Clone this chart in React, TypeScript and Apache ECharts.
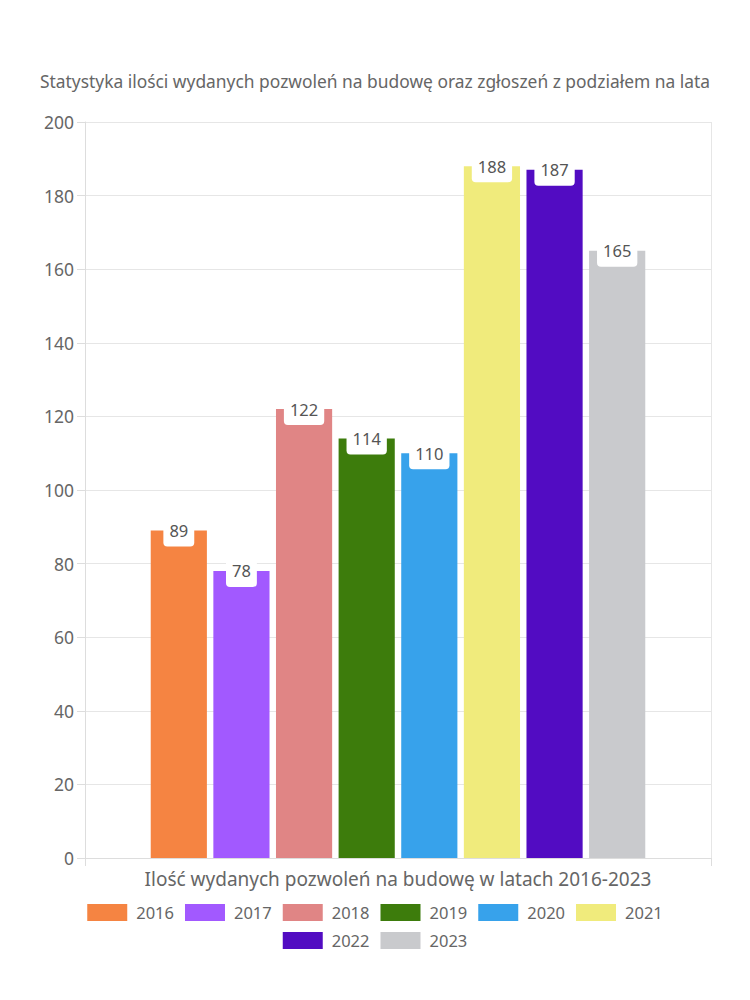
import React, { useEffect, useRef } from "react";
import * as echarts from "echarts";

const TITLE = "Statystyka ilości wydanych pozwoleń na budowę oraz zgłoszeń z podziałem na lata";
const CATEGORIES = ["Ilość wydanych pozwoleń na budowę w latach 2016-2023"];
const YEARS = ["2016", "2017", "2018", "2019", "2020", "2021", "2022", "2023"];
const VALUES = [89, 78, 122, 114, 110, 188, 187, 165];
const COLORS = ["#f58442", "#a259ff", "#e08585", "#3d7c0c", "#37a2eb", "#f0eb7c", "#520cc2", "#c9cacd"];
const LEGEND_ROW1 = YEARS.slice(0, 6);
const LEGEND_ROW2 = YEARS.slice(6);
const Y_MIN = 0;
const Y_MAX = 200;
const Y_STEP = 20;

const FONT = "'Noto Sans', sans-serif";
const TEXT = "#666";

const legendBase = {
  left: "center",
  orient: "horizontal",
  itemWidth: 40,
  itemHeight: 17,
  itemGap: 11,
  icon: "rect",
  textStyle: { fontFamily: FONT, fontSize: 16.5, color: TEXT, padding: [0, 0, 0, 4] },
};

export default function App() {
  const ref = useRef<HTMLDivElement>(null);
  useEffect(() => {
    if (!ref.current) return;
    const chart = echarts.init(ref.current, undefined, { renderer: "svg" });
    chart.setOption({
      animation: false,
      textStyle: { fontFamily: FONT },
      title: {
        text: TITLE,
        left: "center",
        top: 67,
        textStyle: { fontFamily: FONT, fontSize: 17.4, fontWeight: "normal", color: TEXT },
      },
      legend: [
        { ...legendBase, top: 899, data: LEGEND_ROW1 },
        { ...legendBase, top: 927, data: LEGEND_ROW2 },
      ],
      grid: { left: 85, right: 39, top: 122, bottom: 142, containLabel: false },
      xAxis: {
        type: "category",
        data: CATEGORIES,
        axisLine: { show: true, lineStyle: { color: "#ddd" } },
        axisTick: { show: true, length: 8, lineStyle: { color: "#ddd" } },
        splitLine: { show: true, lineStyle: { color: "#e6e6e6" } },
        axisLabel: { fontFamily: FONT, fontSize: 19, color: TEXT, margin: 11 },
      },
      yAxis: {
        type: "value",
        min: Y_MIN,
        max: Y_MAX,
        interval: Y_STEP,
        axisLine: { show: true, lineStyle: { color: "#ddd" } },
        axisTick: { show: true, length: 8, lineStyle: { color: "#ddd" } },
        splitLine: { show: true, lineStyle: { color: "#e6e6e6" } },
        axisLabel: { fontFamily: FONT, fontSize: 17.5, color: TEXT, margin: 11 },
      },
      series: YEARS.map((y, i) => ({
        name: y,
        type: "bar",
        data: [VALUES[i]],
        itemStyle: { color: COLORS[i] },
        barGap: "11.5%",
        barCategoryGap: "21%",
        label: {
          show: true,
          position: ["50%", 0],
          align: "center",
          verticalAlign: "middle",
          fontFamily: FONT,
          fontSize: 16.5,
          color: "#555",
          backgroundColor: "#fff",
          borderRadius: 4,
          padding: [8, 6, 7, 6],
        },
      })),
    });
    return () => chart.dispose();
  }, []);
  return <div ref={ref} style={{ width: 750, height: 1000, margin: -8 }} />;
}
